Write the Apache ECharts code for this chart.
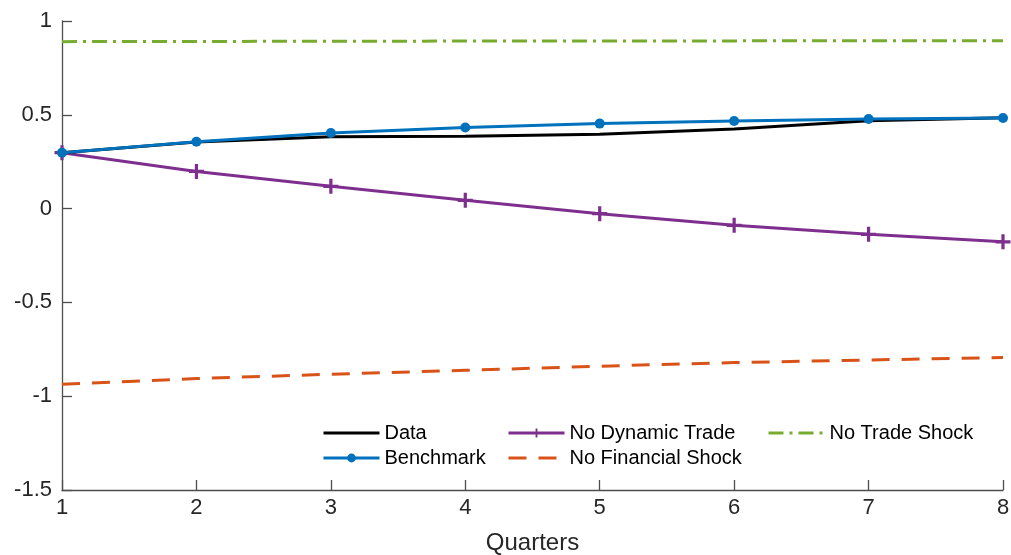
<!DOCTYPE html>
<html>
<head>
<meta charset="utf-8">
<script src="https://cdn.jsdelivr.net/npm/echarts@6/dist/echarts.min.js"></script>
<style>html,body{margin:0;padding:0;background:#fff}#c{width:1011px;height:555px}</style>
</head>
<body>
<div id="c"></div>
<script>
var quarters = [1, 2, 3, 4, 5, 6, 7, 8];
var dataSeries = [0.298, 0.355, 0.383, 0.386, 0.396, 0.424, 0.468, 0.484];
var benchmark = [0.298, 0.356, 0.403, 0.432, 0.453, 0.467, 0.478, 0.483];
var noDynamicTrade = [0.298, 0.198, 0.119, 0.044, -0.027, -0.089, -0.137, -0.177];
var noFinancialShock = [-0.936, -0.906, -0.883, -0.862, -0.840, -0.821, -0.807, -0.794];
var noTradeShock = [0.890, 0.891, 0.892, 0.893, 0.894, 0.894, 0.895, 0.895];
var yTicks = [-1.5, -1, -0.5, 0, 0.5, 1];

function pairs(v) { return quarters.map(function (q, i) { return [q, v[i]]; }); }

var FONT = '"Liberation Sans", Arial, Helvetica, sans-serif';
var TXT = '#262626';
var AX = '#4d4d4d';
var PLUS = 'path://M-1.5,-7 L1.5,-7 L1.5,-1.5 L7,-1.5 L7,1.5 L1.5,1.5 L1.5,7 L-1.5,7 L-1.5,1.5 L-7,1.5 L-7,-1.5 L-1.5,-1.5 Z';

var chart = echarts.init(document.getElementById('c'), null, { renderer: 'canvas' });
var legendCommon = {
  orient: 'vertical',
  itemWidth: 56,
  itemHeight: 11,
  itemGap: 5,
  padding: 0,
  lineStyle: { width: 3 },
  textStyle: { fontFamily: FONT, fontSize: 20, color: '#000', lineHeight: 20, padding: [0, 0, 0, 0] },
  selectedMode: false
};
var hideSym = { opacity: 0 };
chart.setOption({
  animation: false,
  backgroundColor: '#fff',
  grid: { left: 62, right: 8, top: 21, bottom: 65, containLabel: false, outerBoundsMode: 'none' },
  legend: [
    Object.assign({}, legendCommon, { left: 322, top: 423, data: [
      { name: 'Data', itemStyle: hideSym },
      { name: 'Benchmark' }
    ] }),
    Object.assign({}, legendCommon, { left: 507, top: 423, data: [
      { name: 'No Dynamic Trade' },
      { name: 'No Financial Shock', itemStyle: hideSym }
    ] }),
    Object.assign({}, legendCommon, { left: 767, top: 423, data: [
      { name: 'No Trade Shock', itemStyle: hideSym }
    ] })
  ],
  xAxis: {
    type: 'value', min: 1, max: 8, interval: 1,
    name: 'Quarters', nameLocation: 'middle', nameGap: 41,
    nameTextStyle: { fontFamily: FONT, fontSize: 24, color: TXT },
    axisLine: { show: true, onZero: false, lineStyle: { color: AX, width: 1.3 } },
    axisTick: { show: true, inside: true, length: 10, lineStyle: { color: AX, width: 1.3 } },
    axisLabel: { fontFamily: FONT, fontSize: 22, color: TXT, margin: 7 },
    splitLine: { show: false }
  },
  yAxis: {
    type: 'value', min: yTicks[0], max: yTicks[yTicks.length - 1], interval: 0.5,
    axisLine: { show: true, onZero: false, lineStyle: { color: AX, width: 1.3 } },
    axisTick: { show: true, inside: true, length: 10, lineStyle: { color: AX, width: 1.3 } },
    axisLabel: { fontFamily: FONT, fontSize: 22, color: TXT, margin: 10 },
    splitLine: { show: false }
  },
  series: [
    {
      name: 'No Trade Shock', type: 'line', data: pairs(noTradeShock), symbol: 'none',
      lineStyle: { color: '#77AC30', width: 3, type: [15, 6, 3, 6] }, itemStyle: { color: '#77AC30' }, z: 2
    },
    {
      name: 'No Financial Shock', type: 'line', data: pairs(noFinancialShock), symbol: 'none',
      lineStyle: { color: '#D95319', width: 3, type: [18, 12] }, itemStyle: { color: '#D95319' }, z: 2
    },
    {
      name: 'No Dynamic Trade', type: 'line', data: pairs(noDynamicTrade),
      symbol: PLUS, symbolSize: 15,
      lineStyle: { color: '#7E2F8E', width: 3 }, itemStyle: { color: '#7E2F8E' }, z: 3
    },
    {
      name: 'Data', type: 'line', data: pairs(dataSeries), symbol: 'none',
      lineStyle: { color: '#000000', width: 3 }, itemStyle: { color: '#000000' }, z: 4
    },
    {
      name: 'Benchmark', type: 'line', data: pairs(benchmark), symbol: 'circle', symbolSize: 10,
      lineStyle: { color: '#0072BD', width: 3 }, itemStyle: { color: '#0072BD' }, z: 5
    }
  ]
});
</script>
</body>
</html>
